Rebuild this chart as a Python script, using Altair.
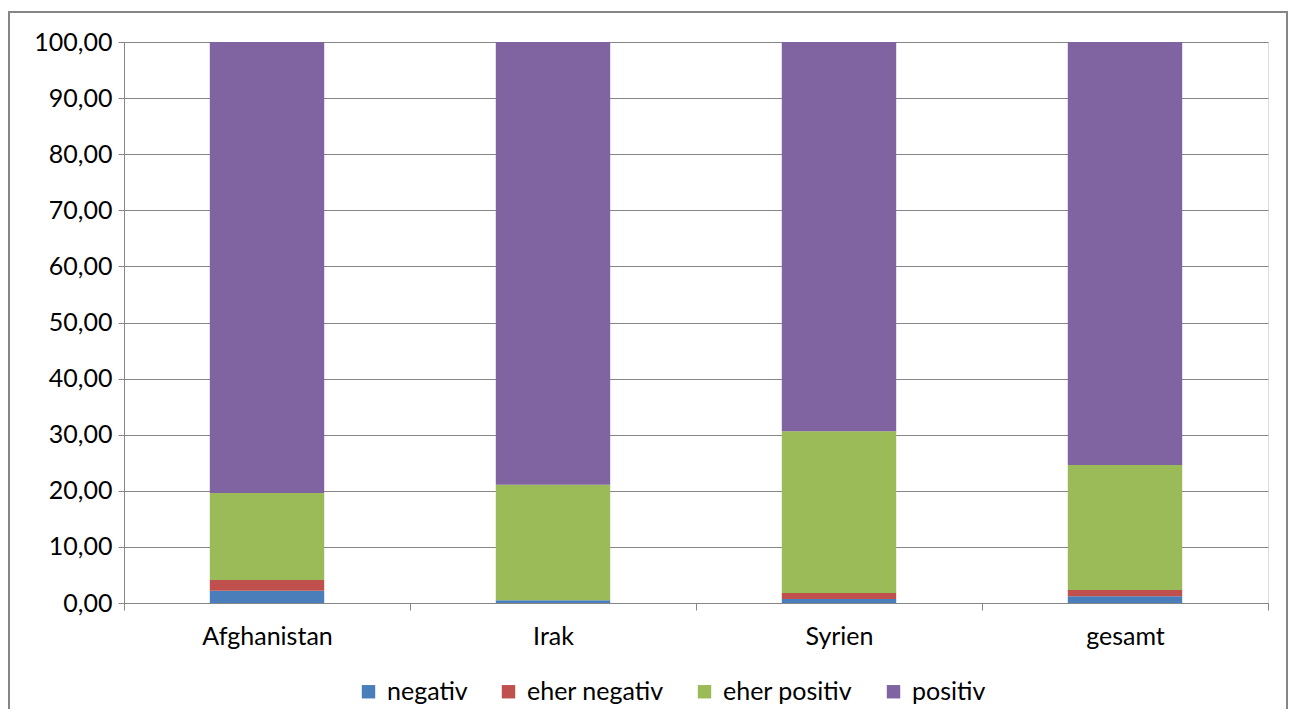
import altair as alt
import pandas as pd

categories = ["Afghanistan", "Irak", "Syrien", "gesamt"]
series = ["negativ", "eher negativ", "eher positiv", "positiv"]
negativ = [2.2, 0.5, 0.7, 1.2]
eher_negativ = [1.9, 0.0, 1.1, 1.1]
eher_positiv = [15.5, 20.6, 28.8, 22.3]
positiv = [80.4, 78.9, 69.4, 75.4]
colors = ["#4A7EBB", "#C0504D", "#9BBB59", "#8064A2"]

rows = []
for si, (name, vals) in enumerate(zip(series, [negativ, eher_negativ, eher_positiv, positiv])):
    for c, v in zip(categories, vals):
        rows.append({"Land": c, "Bewertung": name, "Wert": v, "rank": si})
df = pd.DataFrame(rows)

FONT = "Lato"
FS = 25

bars = alt.Chart(df).mark_bar(width=alt.RelativeBandSize(0.4)).encode(
    x=alt.X("Land:N", sort=categories,
            scale=alt.Scale(paddingInner=0, paddingOuter=0),
            axis=alt.Axis(title=None, labelAngle=0, tickBand="extent", tickSize=7,
                          labelPadding=14, labelFontSize=FS, labelColor="#000000",
                          domainColor="#868686", tickColor="#868686", labelFont=FONT)),
    y=alt.Y("Wert:Q", stack="zero",
            scale=alt.Scale(domain=[0, 100], nice=False),
            axis=alt.Axis(title=None, values=list(range(0, 101, 10)),
                          labelExpr="replace(format(datum.value, '.2f'), '.', ',')",
                          tickSize=6, labelPadding=6, labelFontSize=FS, labelColor="#000000",
                          gridColor="#868686", domainColor="#868686", tickColor="#868686",
                          labelFont=FONT)),
    color=alt.Color("Bewertung:N", sort=series,
                    scale=alt.Scale(domain=series, range=colors),
                    legend=alt.Legend(title=None, orient="none", direction="horizontal",
                                      legendX=232, legendY=637, columns=4, columnPadding=28,
                                      symbolType="square", symbolSize=180, symbolStrokeWidth=0,
                                      labelFontSize=FS, labelFont=FONT, labelColor="#000000",
                                      symbolOpacity=1, labelOffset=6)),
    order=alt.Order("rank:Q", sort="ascending"),
)

frame = alt.Chart(pd.DataFrame({"f": [0]})).mark_rect(
    filled=False, stroke="#868686", strokeWidth=2
).encode(
    x=alt.value(-115), x2=alt.value(1163), y=alt.value(-30), y2=alt.value(720)
)

chart = alt.layer(bars, frame).properties(
    width=1144, height=561,
    autosize=alt.AutoSizeParams(type="none"),
    padding={"left": 116, "top": 34, "right": 21, "bottom": 106},
).configure_view(stroke=None).configure(background="#ffffff")

chart.save("out.html", embed_options={"renderer": "svg", "actions": False})
